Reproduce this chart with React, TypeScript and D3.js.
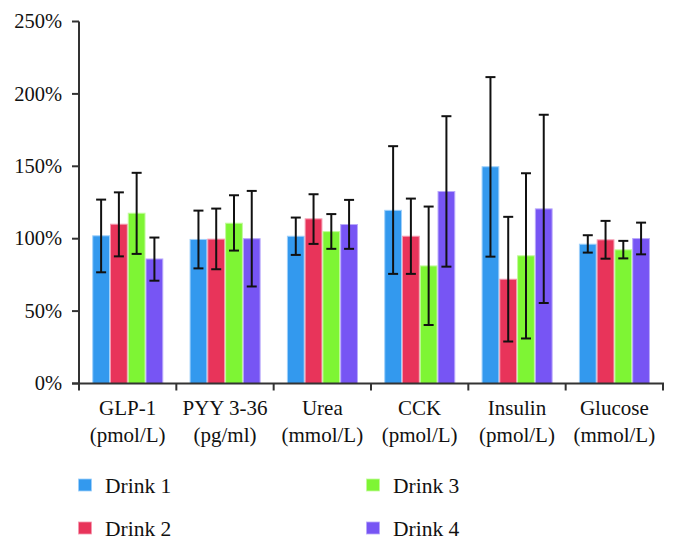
import React from "react";
import * as d3 from "d3";

const categories = ["GLP-1", "PYY 3-36", "Urea", "CCK", "Insulin", "Glucose"];
const units = ["(pmol/L)", "(pg/ml)", "(mmol/L)", "(pmol/L)", "(pmol/L)", "(mmol/L)"];
const seriesNames = ["Drink 1", "Drink 2", "Drink 3", "Drink 4"];
const seriesColors = ["#3399ee", "#e8345a", "#7ef534", "#7755f4"];
const seriesStroke = ["#9fd0fb", "#f59ab0", "#c2fb9c", "#b9a9fb"];

// mean values (%) per series, in category order
const drink1 = [102, 99.5, 101.7, 119.6, 149.7, 96.2];
const drink2 = [110, 99.7, 113.7, 101.7, 72, 99.2];
const drink3 = [117.6, 110.7, 104.9, 81.2, 88.2, 92.3];
const drink4 = [86, 100, 109.8, 132.6, 120.6, 100.1];
// error bar upper / lower bounds (%)
const drink1Hi = [127, 119.4, 114.6, 163.9, 211.6, 102.4];
const drink1Lo = [76.8, 79.5, 88.8, 75.7, 87.6, 90.4];
const drink2Hi = [132, 120.8, 130.7, 127.7, 115.1, 112.3];
const drink2Lo = [87.8, 78.9, 96.4, 75.7, 29, 86.2];
const drink3Hi = [145.5, 130, 117, 122.2, 145.2, 98.5];
const drink3Lo = [89.5, 91.8, 93, 40.4, 31.1, 86.4];
const drink4Hi = [100.8, 133, 126.8, 184.6, 185.6, 111.1];
const drink4Lo = [71, 67, 93, 80.7, 55.6, 89.2];

const yTicks = [0, 50, 100, 150, 200, 250];

const values = [drink1, drink2, drink3, drink4];
const his = [drink1Hi, drink2Hi, drink3Hi, drink4Hi];
const los = [drink1Lo, drink2Lo, drink3Lo, drink4Lo];

const FONT = "'Liberation Serif', 'Times New Roman', serif";

export default function App() {
  const W = 678, H = 549;
  const y = d3.scaleLinear().domain([0, 250]).range([383.5, 21.5]);
  const x0 = d3.scaleBand<string>().domain(categories).range([79, 663]).padding(0);
  const bw = x0.bandwidth();
  const x1 = d3.scaleBand<string>().domain(seriesNames).range([bw * 0.136, bw * 0.866]).padding(0);
  const barW = x1.bandwidth();
  const axisColor = "#333";
  const boundaries = categories.map((c) => x0(c) as number).concat([663]);

  return (
    <svg width={W} height={H} style={{ position: "fixed", left: 0, top: 0, background: "#fff" }} fontFamily={FONT}>
      <rect x={0} y={0} width={W} height={H} fill="#fff" />
      {/* bars */}
      {categories.map((c, ci) => (
        <g key={c} transform={`translate(${x0(c)},0)`}>
          {seriesNames.map((s, si) => {
            const v = values[si][ci];
            return (
              <rect
                key={s}
                x={(x1(s) as number) + 0.5}
                y={y(v)}
                width={barW - 1}
                height={y(0) - y(v)}
                fill={seriesColors[si]}
                stroke={seriesStroke[si]}
                strokeWidth={1}
              />
            );
          })}
        </g>
      ))}
      {/* error bars */}
      {categories.map((c, ci) => (
        <g key={c + "e"} transform={`translate(${x0(c)},0)`}>
          {seriesNames.map((s, si) => {
            const cx = (x1(s) as number) + barW / 2;
            const hi = y(his[si][ci]);
            const lo = y(los[si][ci]);
            return (
              <g key={s} stroke="#111" strokeWidth={2}>
                <line x1={cx} x2={cx} y1={hi} y2={lo} />
                <line x1={cx - 5} x2={cx + 5} y1={hi} y2={hi} />
                <line x1={cx - 5} x2={cx + 5} y1={lo} y2={lo} />
              </g>
            );
          })}
        </g>
      ))}
      {/* y axis */}
      <line x1={79} x2={79} y1={y(250)} y2={y(0)} stroke={axisColor} strokeWidth={2} />
      {yTicks.map((t) => (
        <g key={t}>
          <line x1={72} x2={79} y1={y(t)} y2={y(t)} stroke={axisColor} strokeWidth={2} />
          <text x={62} y={y(t)} dy="0.33em" textAnchor="end" fontSize={20.5} fill="#111">
            {t}%
          </text>
        </g>
      ))}
      {/* x axis */}
      <line x1={72} x2={664} y1={y(0)} y2={y(0)} stroke={axisColor} strokeWidth={2} />
      {boundaries.map((b, i) => (
        <line key={i} x1={b} x2={b} y1={y(0)} y2={y(0) + 7} stroke={axisColor} strokeWidth={2} />
      ))}
      {categories.map((c, ci) => (
        <g key={c + "l"}>
          <text x={(x0(c) as number) + bw / 2} y={415} textAnchor="middle" fontSize={21} fill="#111">
            {c}
          </text>
          <text x={(x0(c) as number) + bw / 2} y={442} textAnchor="middle" fontSize={21} fill="#111">
            {units[ci]}
          </text>
        </g>
      ))}
      {/* legend */}
      {seriesNames.map((s, si) => {
        const col = Math.floor(si / 2);
        const row = si % 2;
        const sx = col === 0 ? 78.5 : 366.5;
        const sy = row === 0 ? 479 : 522;
        return (
          <g key={s + "lg"}>
            <rect x={sx} y={sy} width={13} height={12} fill={seriesColors[si]} stroke={seriesStroke[si]} strokeWidth={0.8} />
            <text x={sx + 26.5} y={sy + 14} fontSize={21.5} fill="#111">
              {s}
            </text>
          </g>
        );
      })}
    </svg>
  );
}
